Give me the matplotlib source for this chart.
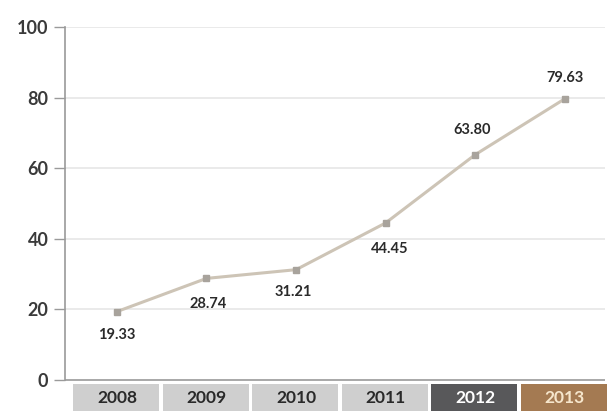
import matplotlib
matplotlib.use("Agg")
import matplotlib.pyplot as plt
from matplotlib.patches import Rectangle

years = ["2008", "2009", "2010", "2011", "2012", "2013"]
values = [19.33, 28.74, 31.21, 44.45, 63.80, 79.63]
yticks = [0, 20, 40, 60, 80, 100]

# label placement offsets (points) for each value annotation
label_offsets = [(0, -16.5), (1, -18.5), (-2, -16), (3, -18.5), (-2, 18), (0, 15)]

box_face = ["#cfcfcf", "#cfcfcf", "#cfcfcf", "#cfcfcf", "#58585a", "#a47a52"]
box_text = ["#2a2a2a", "#2a2a2a", "#2a2a2a", "#2a2a2a", "#ffffff", "#f6e6cc"]

plt.rcParams["font.family"] = ["Lato", "DejaVu Sans"]

fig = plt.figure(figsize=(6.11, 4.18), dpi=100)
ax = fig.add_axes([65 / 611, 4 / 418, 540 / 611, 387 / 418])

x = list(range(len(years)))
ax.set_xlim(-0.58, 5.45)
ax.set_ylim(-9.7, 100)

# horizontal guides
for t in yticks[1:]:
    ax.axhline(t, color="#e6e6e6", lw=1.2, zorder=1)
ax.axhline(0, color="#9a9a9a", lw=1.2, zorder=2)

ax.plot(x, values, color="#cdc4b6", lw=2.2, zorder=3)
ax.plot(x, values, ls="none", marker="s", ms=4, color="#a8a39c", zorder=4)

for xi, v, off in zip(x, values, label_offsets):
    ax.annotate(f"{v:.2f}", (xi, v), xytext=off, textcoords="offset points",
                ha="center", va="center", fontsize=10.5, fontweight="bold",
                color="#2a2a2a")

# year boxes below the axis
for xi, yr, fc, tc in zip(x, years, box_face, box_text):
    ax.add_patch(Rectangle((xi - 0.49, -8.9), 0.96, 7.6, facecolor=fc,
                           edgecolor="none", clip_on=False, zorder=2))
    ax.text(xi, -5.1, yr, ha="center", va="center", fontsize=12.5,
            fontweight="bold", color=tc, zorder=3)

for s in ["top", "right", "bottom"]:
    ax.spines[s].set_visible(False)
ax.spines["left"].set_bounds(0, 100)
ax.spines["left"].set_color("#9a9a9a")
ax.spines["left"].set_linewidth(1.2)

ax.set_xticks([])
ax.set_yticks(yticks)
ax.set_yticklabels([str(t) for t in yticks], fontsize=13, fontweight="bold",
                   color="#3a3a3a")
ax.tick_params(axis="y", length=8, width=1, color="#9a9a9a", pad=4)

fig.savefig("out.png", dpi=100, facecolor="white")
